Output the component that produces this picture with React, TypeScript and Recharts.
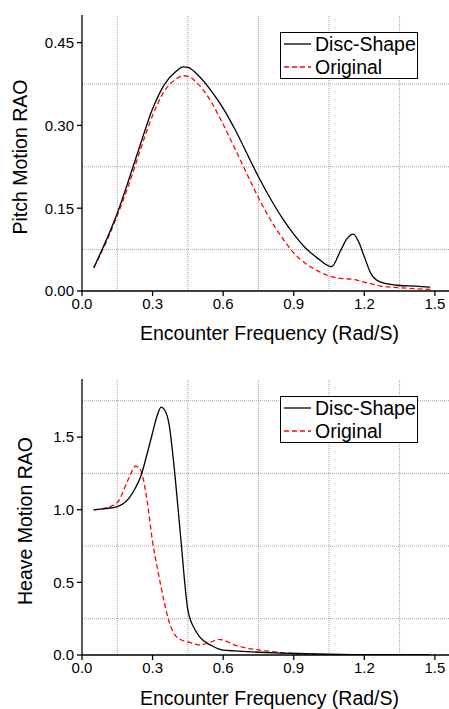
import { LineChart, Line, XAxis, YAxis, ReferenceLine, Legend } from "recharts";

// pitch RAO
const pitchFreq = [0.05, 0.1, 0.15, 0.2, 0.25, 0.3, 0.35, 0.4, 0.43, 0.45, 0.5, 0.55, 0.6, 0.65, 0.7, 0.75, 0.8, 0.85, 0.9, 0.95, 1.0, 1.06, 1.1, 1.125, 1.153, 1.175, 1.2, 1.23, 1.27, 1.35, 1.42, 1.48];
const pitchDisc = [0.042, 0.089, 0.141, 0.203, 0.268, 0.33, 0.374, 0.398, 0.406, 0.405, 0.388, 0.362, 0.331, 0.293, 0.25, 0.207, 0.168, 0.133, 0.103, 0.078, 0.06, 0.044, 0.074, 0.094, 0.103, 0.09, 0.062, 0.03, 0.016, 0.01, 0.009, 0.007];
const pitchOrig = [0.042, 0.086, 0.137, 0.194, 0.258, 0.318, 0.362, 0.384, 0.39, 0.389, 0.372, 0.342, 0.302, 0.258, 0.213, 0.169, 0.13, 0.097, 0.069, 0.05, 0.037, 0.026, 0.023, 0.022, 0.021, 0.019, 0.016, 0.013, 0.009, 0.006, 0.004, 0.003];

// heave RAO
const heaveFreq = [0.05, 0.1, 0.15, 0.2, 0.227, 0.25, 0.276, 0.3, 0.32, 0.336, 0.35, 0.37, 0.395, 0.42, 0.45, 0.48, 0.5, 0.55, 0.58, 0.6, 0.65, 0.7, 0.75, 0.85, 0.95, 1.05, 1.15, 1.25, 1.35, 1.48];
const heaveDisc = [1.0, 1.008, 1.022, 1.08, 1.15, 1.23, 1.38, 1.53, 1.65, 1.707, 1.69, 1.59, 1.24, 0.8, 0.31, 0.175, 0.125, 0.065, 0.042, 0.034, 0.028, 0.023, 0.019, 0.013, 0.009, 0.005, 0.003, 0.002, 0.001, 0.001];
const heaveOrig = [1.0, 1.012, 1.05, 1.22, 1.3, 1.27, 1.07, 0.78, 0.6, 0.47, 0.36, 0.23, 0.138, 0.105, 0.09, 0.075, 0.069, 0.09, 0.108, 0.103, 0.068, 0.048, 0.035, 0.016, 0.007, 0.002, 0.001, 0.001, 0.001, 0.001];

const xTicks = [0, 0.3, 0.6, 0.9, 1.2, 1.5];
const xGrid = [0.15, 0.45, 0.75, 1.05, 1.35];
const pitchTicks = [0, 0.15, 0.3, 0.45];
const pitchGrid = [0.075, 0.225, 0.375];
const heaveTicks = [0, 0.5, 1.0, 1.5];
const heaveGrid = [0.25, 0.75, 1.25, 1.75];

const seriesNames = ["Disc-Shape", "Original"];

const FONT = "'Liberation Sans', Arial, sans-serif";
const axisStroke = { stroke: "#000", strokeWidth: 1.3 };
const gridStyle = { stroke: "#8a8a8a", strokeDasharray: "1 1", strokeWidth: 0.8 };

const noLabel = () => <g />;

function LegendBox() {
  return (
    <div style={{ border: "1px solid #000", background: "#fff", height: 47, boxSizing: "border-box", fontFamily: FONT, fontSize: 19.5, lineHeight: "22.5px", paddingLeft: 2 }}>
      {seriesNames.map((name, i) => (
        <div key={name} style={{ display: "flex", alignItems: "center", height: 22.5 }}>
          <svg width={30} height={4} style={{ marginRight: 2 }}>
            <line x1={1} y1={2} x2={28} y2={2} stroke={i === 0 ? "#000" : "#ff0000"} strokeWidth={1.3} strokeDasharray={i === 0 ? undefined : "5 3"} />
          </svg>
          <span>{name}</span>
        </div>
      ))}
    </div>
  );
}

interface PanelProps {
  freq: number[];
  disc: number[];
  orig: number[];
  yTicks: number[];
  yGrid: number[];
  yMax: number;
  digits: number;
  yTitle: string;
  topMargin: number;
  height: number;
  xTitleY: number;
  yTitleX: number;
}

function Panel(p: PanelProps) {
  const data = p.freq.map((f, i) => ({ f, disc: p.disc[i], orig: p.orig[i] }));
  const xHeight = p.height - p.topMargin - 276;
  return (
    <LineChart width={449} height={p.height} data={data} margin={{ top: p.topMargin, right: 0, left: 0, bottom: 0 }}>
      <XAxis
        dataKey="f"
        type="number"
        domain={[0, 1.56]}
        allowDataOverflow
        ticks={xTicks}
        tickFormatter={(v: number) => v.toFixed(1)}
        tick={{ fill: "#000", fontSize: 15, fontFamily: FONT }}
        tickSize={5}
        tickMargin={2}
        axisLine={axisStroke}
        tickLine={axisStroke}
        height={xHeight}
        label={{
          content: ({ viewBox }: any) => (
            <text x={viewBox.x + viewBox.width / 2 + 4} y={p.xTitleY} textAnchor="middle" dominantBaseline="central" fontFamily={FONT} fontSize={19.5} fill="#000">
              Encounter Frequency (Rad/S)
            </text>
          ),
        }}
      />
      <XAxis xAxisId="minor" dataKey="f" type="number" domain={[0, 1.56]} allowDataOverflow ticks={xGrid} tick={noLabel} tickSize={3} tickLine={axisStroke} axisLine={false} height={0} />
      <XAxis xAxisId="top" orientation="top" dataKey="f" type="number" domain={[0, 1.56]} allowDataOverflow ticks={xTicks} tick={noLabel} tickSize={4} tickLine={axisStroke} axisLine={axisStroke} height={0} />
      <YAxis
        type="number"
        domain={[0, p.yMax]}
        allowDataOverflow
        ticks={p.yTicks}
        tickFormatter={(v: number) => v.toFixed(p.digits)}
        tick={{ fill: "#000", fontSize: 15, fontFamily: FONT }}
        tickSize={5}
        tickMargin={3}
        axisLine={axisStroke}
        tickLine={axisStroke}
        width={82}
        label={{
          content: ({ viewBox }: any) => {
            const cy = viewBox.y + viewBox.height / 2 + 4;
            return (
              <text x={p.yTitleX} y={cy} transform={`rotate(-90 ${p.yTitleX} ${cy})`} textAnchor="middle" dominantBaseline="central" fontFamily={FONT} fontSize={19.5} fill="#000">
                {p.yTitle}
              </text>
            );
          },
        }}
      />
      {xGrid.map((v) => (
        <ReferenceLine key={`vx${v}`} x={v} {...gridStyle} />
      ))}
      {p.yGrid.map((v) => (
        <ReferenceLine key={`hy${v}`} y={v} {...gridStyle} />
      ))}
      <Line dataKey="orig" name={seriesNames[1]} type="monotone" stroke="#ff0000" strokeWidth={1.3} strokeDasharray="5 3" dot={false} isAnimationActive={false} />
      <Line dataKey="disc" name={seriesNames[0]} type="monotone" stroke="#000" strokeWidth={1.3} dot={false} isAnimationActive={false} />
      <Legend layout="vertical" align="center" verticalAlign="middle" content={() => <LegendBox />} wrapperStyle={{ left: 280, top: p.topMargin + 17, width: 138, height: 47 }} />
    </LineChart>
  );
}

export default function App() {
  return (
    <div style={{ position: "absolute", left: 0, top: 0, width: 449, height: 709, background: "#fff" }}>
      <Panel freq={pitchFreq} disc={pitchDisc} orig={pitchOrig} yTicks={pitchTicks} yGrid={pitchGrid} yMax={0.5} digits={2} yTitle="Pitch Motion RAO" topMargin={15} height={360} xTitleY={333} yTitleX={20} />
      <Panel freq={heaveFreq} disc={heaveDisc} orig={heaveOrig} yTicks={heaveTicks} yGrid={heaveGrid} yMax={1.9} digits={1} yTitle="Heave Motion RAO" topMargin={19} height={349} xTitleY={338} yTitleX={25} />
    </div>
  );
}
